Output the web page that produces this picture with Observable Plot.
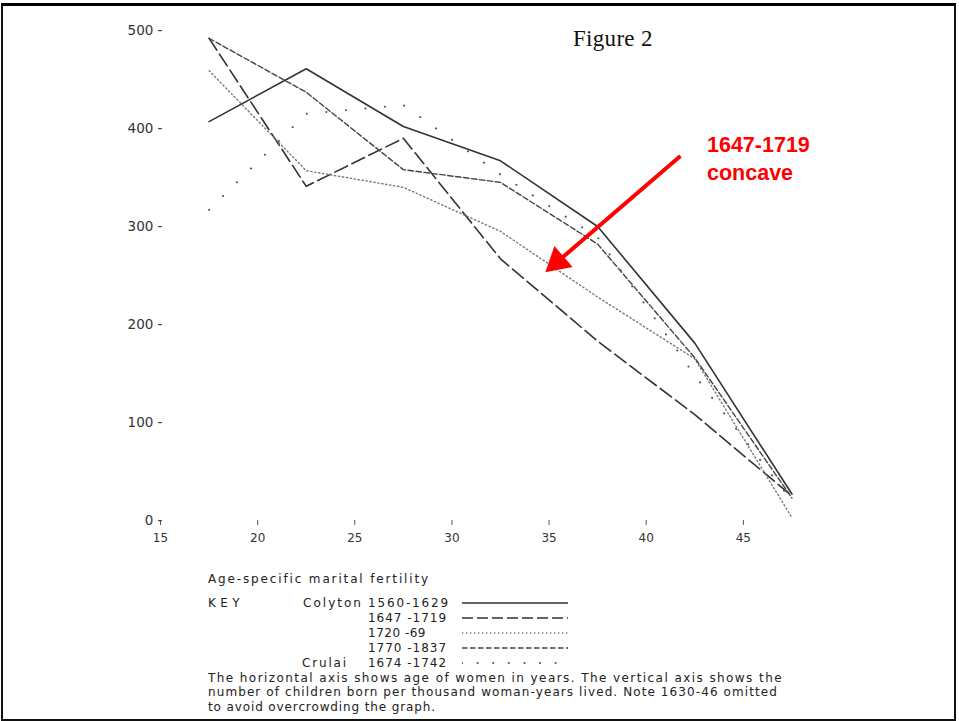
<!DOCTYPE html>
<html>
<head>
<meta charset="utf-8">
<script src="https://cdn.jsdelivr.net/npm/d3@7"></script>
<script src="https://cdn.jsdelivr.net/npm/@observablehq/plot@0.6"></script>
<style>
  html, body { margin: 0; padding: 0; background: #fff; }
  #page { position: relative; width: 959px; height: 721px; overflow: hidden; background: #fff; }
  #frame { position: absolute; left: 1px; top: 3px; width: 951px; height: 713px;
           border: 2px solid #111; border-top: 3px solid #000; }
  #chart { position: absolute; left: 0; top: 0; }
  .t { position: absolute; font-family: "DejaVu Sans", sans-serif; color: #222;
       white-space: nowrap; line-height: 1; transform: translateY(-50%); }
  .leg { font-size: 12px; }
  #fig { position: absolute; left: 573px; top: 26px; font-family: "Liberation Serif", serif;
         font-size: 23px; color: #111; letter-spacing: 0.3px; white-space: nowrap; }
  #note { position: absolute; left: 707px; top: 131px; font-family: "Liberation Sans", Arial, sans-serif;
          font-weight: bold; font-size: 21.5px; color: #f00; line-height: 28px; }
  svg.sample { position: absolute; left: 462px; }
</style>
</head>
<body>
<div id="page">
  <div id="frame"></div>
  <div id="chart"></div>
  <div id="fig">Figure 2</div>
  <div id="note">1647-1719<br>concave</div>
  <div id="legend"></div>
</div>
<script>
// ---- data ----
const ages = [17.5, 22.5, 27.5, 32.5, 37.5, 42.5, 47.5];
const colyton1560 = [407, 461, 402, 367, 300, 181, 27];
const colyton1647 = [492, 341, 390, 267, 183, 108, 25];
const colyton1720 = [459, 357, 340, 295, 228, 165, 3];
const colyton1770 = [492, 437, 358, 345, 282, 166, 23];
const crulai1674 = [317, 415, 424, 353, 289, 148, 20];

const seriesNames = ["Colyton 1560-1629", "1647 -1719", "1720 -69", "1770 -1837", "Crulai 1674 -1742"];
const xTicks = [15, 20, 25, 30, 35, 40, 45];
const yTicks = [0, 100, 200, 300, 400, 500];

// annotation arrow (data coordinates: age, fertility)
const arrowStart = [41.76, 372];
const arrowHead = [35.43, 264];

// ---- build table ----
const allSeries = [colyton1560, colyton1647, colyton1720, colyton1770, crulai1674];
const rows = [];
allSeries.forEach((vals, i) => vals.forEach((v, j) => rows.push({series: seriesNames[i], age: ages[j], value: v})));
const of = name => rows.filter(r => r.series === name);

const styles = [
  {stroke: "#333", strokeWidth: 1.6},
  {stroke: "#333", strokeWidth: 1.6, strokeDasharray: "14 5"},
  {stroke: "#777", strokeWidth: 1.4, strokeDasharray: "1.3 2.7"},
  {stroke: "#444", strokeWidth: 1.4, strokeDasharray: "5.5 2.5"},
  {stroke: "#555", strokeWidth: 2, strokeDasharray: "0.1 19.5", strokeLinecap: "round"}
];

const chart = Plot.plot({
  width: 959,
  height: 560,
  marginTop: 30,
  marginBottom: 40,
  marginLeft: 160,
  marginRight: 119,
  x: {domain: [15, 50]},
  y: {domain: [0, 500]},
  style: {fontFamily: "DejaVu Sans, sans-serif", color: "#333", background: "transparent", overflow: "visible"},
  marks: [
    Plot.axisX({ticks: xTicks, tickSize: 5, tickPadding: 8, tickFormat: d => String(d), label: null, fontSize: 12, stroke: "#555"}),
    Plot.axisY({ticks: yTicks, tickSize: 0, tickPadding: -2, tickFormat: d => `${d} -`, label: null, fontSize: 13.5}),
    ...seriesNames.map((name, i) => Plot.line(of(name), {x: "age", y: "value", curve: "linear", ...styles[i]})),
    Plot.link([{x1: arrowStart[0], y1: arrowStart[1], x2: arrowHead[0], y2: arrowHead[1]}],
      {x1: "x1", y1: "y1", x2: "x2", y2: "y2", stroke: "#f00", strokeWidth: 4}),
    Plot.dot([{x: arrowHead[0], y: arrowHead[1]}],
      {x: "x", y: "y", symbol: "triangle", r: 10.3, fill: "#f00", stroke: "none", rotate: 229})
  ]
});
document.getElementById("chart").appendChild(chart);

// ---- legend / key (HTML) ----
const legend = document.getElementById("legend");
function addText(txt, left, cy, width) {
  const d = document.createElement("div");
  d.className = "t leg";
  d.textContent = txt;
  d.style.left = left + "px";
  d.style.top = cy + "px";
  legend.appendChild(d);
  if (width) {
    const w = d.getBoundingClientRect().width;
    const n = txt.length;
    d.style.letterSpacing = ((width - w) / n) + "px";
  }
  return d;
}
addText("Age-specific marital fertility", 208, 579, 222);
addText("KEY", 208, 603, 36);
addText("Colyton", 303, 603, 60);
addText("Crulai", 302, 663, 46);
const periods = ["1560-1629", "1647 -1719", "1720 -69", "1770 -1837", "1674 -1742"];
const periodW = [82, 79, 58, 79, 79];
const rowY = [603, 618, 633, 648, 663];
const ns = "http://www.w3.org/2000/svg";
periods.forEach((p, i) => {
  addText(p, 368, rowY[i], periodW[i]);
  const s = document.createElementNS(ns, "svg");
  s.setAttribute("class", "sample");
  s.setAttribute("width", 108);
  s.setAttribute("height", 8);
  s.style.top = (rowY[i] - 4) + "px";
  const l = document.createElementNS(ns, "line");
  l.setAttribute("x1", 0); l.setAttribute("x2", 106);
  l.setAttribute("y1", 4); l.setAttribute("y2", 4);
  const st = styles[i];
  l.setAttribute("stroke", st.stroke);
  l.setAttribute("stroke-width", st.strokeWidth);
  if (i === 4) { l.setAttribute("stroke-dasharray", "0.1 15.5"); l.setAttribute("stroke-linecap", "round"); }
  else if (st.strokeDasharray) l.setAttribute("stroke-dasharray", i === 1 ? "11 4" : st.strokeDasharray);
  s.appendChild(l);
  legend.appendChild(s);
});
const caption = [
  "The horizontal axis shows age of women in years. The vertical axis shows the",
  "number of children born per thousand woman-years lived. Note 1630-46 omitted",
  "to avoid overcrowding the graph."
];
const captionW = [575, 570, 228];
[678, 692, 707].forEach((y, i) => addText(caption[i], 208, y, captionW[i]));
</script>
</body>
</html>
